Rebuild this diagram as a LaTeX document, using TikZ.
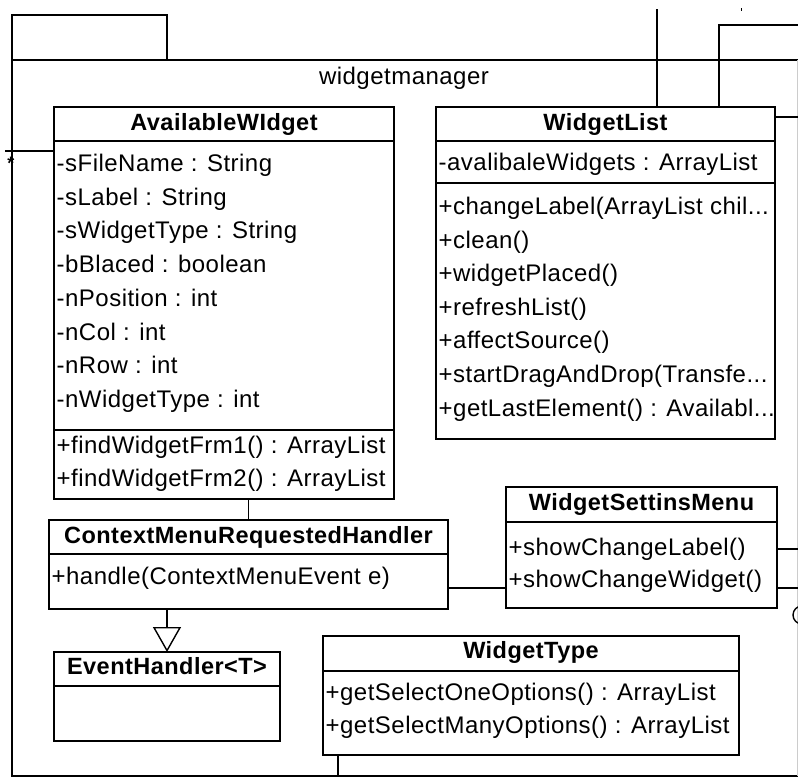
\documentclass[tikz,border=0pt]{standalone}
\usepackage{fontspec}
\setmainfont{Liberation Sans}[LetterSpace=2]
\usetikzlibrary{arrows.meta, positioning}

\begin{document}
\begin{tikzpicture}[x=1pt, y=-1pt, line width=1.4pt,
        classbox/.style={draw, rectangle, inner sep=0pt, outer sep=0pt, anchor=north west},
        title/.style={anchor=base, inner sep=0pt, font=\bfseries\fontsize{23.5}{26}\selectfont},
        member/.style={anchor=base west, inner sep=0pt, font=\fontsize{24}{26}\selectfont}]
    \useasboundingbox (0,0) rectangle (798,777);

    % package widgetmanager
    \draw (12,60) rectangle (167,15);
    \draw (12,60) -- (800,60);
    \draw (12,60) -- (12,776) -- (800,776);
    \draw[gray!40, line width=0.8pt] (797,60) -- (797,776);
    \node[anchor=base, inner sep=0pt, font=\fontsize{24}{26}\selectfont] (pkg) at (404,84) {widgetmanager};

    % classes
    \node[classbox, minimum width=340pt, minimum height=392pt] (aw) at (54,107) {};
    \node[classbox, minimum width=339pt, minimum height=332pt] (wl) at (436,107) {};
    \node[classbox, minimum width=271pt, minimum height=121pt] (wsm) at (506,487) {};
    \node[classbox, minimum width=399pt, minimum height=89pt] (cmrh) at (49,520) {};
    \node[classbox, minimum width=226pt, minimum height=89pt] (eh) at (54,652) {};
    \node[classbox, minimum width=416pt, minimum height=119pt] (wt) at (323,636) {};

    % compartments
    \draw ([yshift=-34pt]aw.north west) -- ([yshift=-34pt]aw.north east);
    \draw ([yshift=69pt]aw.south west) -- ([yshift=69pt]aw.south east);
    \draw ([yshift=-34pt]wl.north west) -- ([yshift=-34pt]wl.north east);
    \draw ([yshift=-76pt]wl.north west) -- ([yshift=-76pt]wl.north east);
    \draw ([yshift=-35pt]wsm.north west) -- ([yshift=-35pt]wsm.north east);
    \draw ([yshift=-34pt]cmrh.north west) -- ([yshift=-34pt]cmrh.north east);
    \draw ([yshift=-34pt]eh.north west) -- ([yshift=-34pt]eh.north east);
    \draw ([yshift=-35pt]wt.north west) -- ([yshift=-35pt]wt.north east);

    % titles
    \node[title] (awname) at ([yshift=-23pt]aw.north) {AvailableWIdget};
    \node[title] (wlname) at ([yshift=-23pt]wl.north) {WidgetList};
    \node[title] (wsmname) at ([yshift=-23pt]wsm.north) {WidgetSettinsMenu};
    \node[title] (cmrhname) at ([yshift=-23pt]cmrh.north) {ContextMenuRequestedHandler};
    \node[title] (ehname) at ([yshift=-22pt]eh.north) {EventHandler<T>};
    \node[title] (wtname) at ([yshift=-22pt]wt.north) {WidgetType};

    % AvailableWIdget members
    \node[member] (aw1) at (56,171.5) {-sFileName : String};
    \node[member] (aw2) at (56,205.2) {-sLabel : String};
    \node[member] (aw3) at (56,238.9) {-sWidgetType : String};
    \node[member] (aw4) at (56,272.6) {-bBlaced : boolean};
    \node[member] (aw5) at (56,306.3) {-nPosition : int};
    \node[member] (aw6) at (56,340) {-nCol : int};
    \node[member] (aw7) at (56,373.7) {-nRow : int};
    \node[member] (aw8) at (56,407.4) {-nWidgetType : int};
    \node[member] (aw9) at (56,453) {+findWidgetFrm1() : ArrayList};
    \node[member] (aw10) at (56,486) {+findWidgetFrm2() : ArrayList};

    % WidgetList members
    \node[member] (wl1) at (438,170) {-avalibaleWidgets : ArrayList};
    \node[member] (wl2) at (438,214.5) {+changeLabel(ArrayList chil...};
    \node[member] (wl3) at (438,248.1) {+clean()};
    \node[member] (wl4) at (438,281.7) {+widgetPlaced()};
    \node[member] (wl5) at (438,315.3) {+refreshList()};
    \node[member] (wl6) at (438,348.9) {+affectSource()};
    \node[member] (wl7) at (438,382.5) {+startDragAndDrop(Transfe...};
    \node[member] (wl8) at (438,416.1) {+getLastElement() : Availabl...};

    % other members
    \node[member] (wsm1) at (508,555) {+showChangeLabel()};
    \node[member] (wsm2) at (508,587) {+showChangeWidget()};
    \node[member] (cmrh1) at (51,584) {+handle(ContextMenuEvent e)};
    \node[member] (wt1) at (325,700) {+getSelectOneOptions() : ArrayList};
    \node[member] (wt2) at (325,733) {+getSelectManyOptions() : ArrayList};

    % free ends of cut connectors
    \coordinate (top1) at (657,9);
    \coordinate (top2) at (800,25);
    \coordinate (left1) at (5,151);
    \coordinate (right1) at (800,117);
    \coordinate (right2) at (800,549);
    \coordinate (right3) at (800,588);
    \coordinate (bottom1) at (338,776);

    % connectors
    \draw (aw.south -| cmrh.north) -- (cmrh.north);
    \draw[-{Triangle[open, length=25pt, width=28pt]}] (cmrh.south -| eh.north) -- (eh.north);
    \draw ([yshift=21pt]cmrh.south east) -- ([yshift=21pt]cmrh.south east -| wsm.west);
    \draw (top1) -- (top1 |- wl.north);
    \draw (top2) -| ([xshift=283pt]wl.north west);
    \draw ([yshift=-10pt]wl.north east) -- (right1);
    \draw (right2 -| wsm.east) -- (right2);
    \draw (right3 -| wsm.east) -- (right3);
    \draw (left1) -- (left1 -| aw.west);
    \draw ([xshift=15pt]wt.south west) -- (bottom1);
    \draw[line width=0.8pt] (741,8) -- (741,11);
    \node[inner sep=0pt, font=\bfseries\fontsize{18}{18}\selectfont] (star) at (11,163) {*};
    \draw (802,615) circle (9);
\end{tikzpicture}
\end{document}
